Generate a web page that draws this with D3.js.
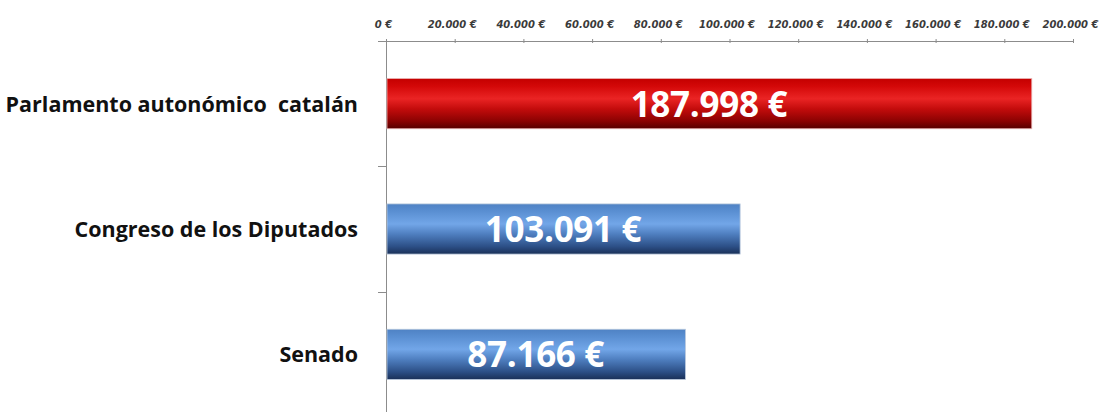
<!DOCTYPE html>
<html>
<head>
<meta charset="utf-8">
<script src="https://cdn.jsdelivr.net/npm/d3@7"></script>
<style>
  body { margin: 0; background: #fff; }
  svg { display: block; }
</style>
</head>
<body>
<svg id="chart" width="1103" height="412"></svg>
<script>
var categories = ["Parlamento autonómico  catalán", "Congreso de los Diputados", "Senado"]
var values = [187998, 103091, 87166]
var tickValues = [0, 20000, 40000, 60000, 80000, 100000, 120000, 140000, 160000, 180000, 200000]

var svg = d3.select("#chart")

var fmt = d3.formatLocale({decimal: ",", thousands: ".", grouping: [3], currency: ["", " €"]})
var money = fmt.format(",.0f")

var x = d3.scaleLinear().domain([0, 200000]).range([386, 1073])
var y = d3.scaleBand().domain(categories).range([41, 417])
          .paddingInner(0.6).paddingOuter(0.3)

// gradients
var defs = svg.append("defs")
function grad(id, stops) {
  var g = defs.append("linearGradient").attr("id", id)
    .attr("x1", 0).attr("y1", 0).attr("x2", 0).attr("y2", 1)
  stops.forEach(s => g.append("stop").attr("offset", s[0]).attr("stop-color", s[1]))
}
grad("red", [[0, "#c40000"], [0.15, "#d30808"], [0.4, "#ea2424"], [0.6, "#c40c0c"], [0.85, "#8a0202"], [1, "#560000"]])
grad("blue", [[0, "#4f82c4"], [0.15, "#5a8fd2"], [0.4, "#72a6e8"], [0.6, "#4f7fc0"], [0.85, "#2c4f86"], [1, "#1a3058"]])

// top axis
var xAxis = svg.append("g")
  .attr("transform", "translate(0,41)")
  .call(d3.axisTop(x).tickValues(tickValues).tickSize(2).tickSizeOuter(0)
        .tickFormat(d => money(d) + " €"))
xAxis.select(".domain").attr("stroke", "#8c8c8c").attr("d", "M378,0.5H1073")
xAxis.selectAll(".tick line").attr("stroke", "#8c8c8c").attr("y1", 2).attr("y2", -2)
xAxis.selectAll(".tick text")
  .attr("y", -13)
  .attr("dx", -3)
  .style("font-family", "DejaVu Sans")
  .style("font-style", "italic")
  .style("font-weight", "bold")
  .style("font-size", "10px")
  .attr("fill", "#3a3a3a")

// vertical axis
svg.append("line").attr("x1", 386.5).attr("x2", 386.5).attr("y1", 41).attr("y2", 412)
  .attr("stroke", "#8c8c8c")
var step = y.step()
d3.range(1, categories.length).forEach(i => {
  var yy = Math.round(41 + i * step) + 0.5
  svg.append("line").attr("x1", 378).attr("x2", 386).attr("y1", yy).attr("y2", yy)
    .attr("stroke", "#8c8c8c")
})

var data = categories.map((c, i) => ({name: c, value: values[i]}))

svg.selectAll("rect.bar")
  .data(data)
  .enter().append("rect")
  .attr("class", "bar")
  .attr("x", x(0) + 1)
  .attr("y", d => y(d.name))
  .attr("width", d => x(d.value) - x(0) - 1)
  .attr("height", y.bandwidth())
  .attr("fill", (d, i) => i == 0 ? "url(#red)" : "url(#blue)")
  .attr("stroke", (d, i) => i == 0 ? "#e8b0b0" : "#b8c8dc")
  .attr("stroke-width", 0.8)

svg.selectAll("text.val")
  .data(data)
  .enter().append("text")
  .attr("class", "val")
  .attr("x", d => (x(0) + x(d.value)) / 2)
  .attr("y", d => y(d.name) + y.bandwidth() / 2 + 13)
  .attr("text-anchor", "middle")
  .style("font-family", "Open Sans")
  .style("font-weight", "bold")
  .style("font-size", "35px")
  .style("letter-spacing", "-0.3px")
  .attr("fill", "#fff")
  .text(d => money(d.value) + " €")

svg.selectAll("text.cat")
  .data(data)
  .enter().append("text")
  .attr("class", "cat")
  .attr("x", 358)
  .attr("y", d => y(d.name) + y.bandwidth() / 2 + 8)
  .attr("text-anchor", "end")
  .attr("xml:space", "preserve")
  .style("white-space", "pre")
  .style("font-family", "Open Sans")
  .style("font-weight", "bold")
  .style("font-size", "21.5px")
  .attr("fill", "#111")
  .text(d => d.name)
</script>
</body>
</html>
